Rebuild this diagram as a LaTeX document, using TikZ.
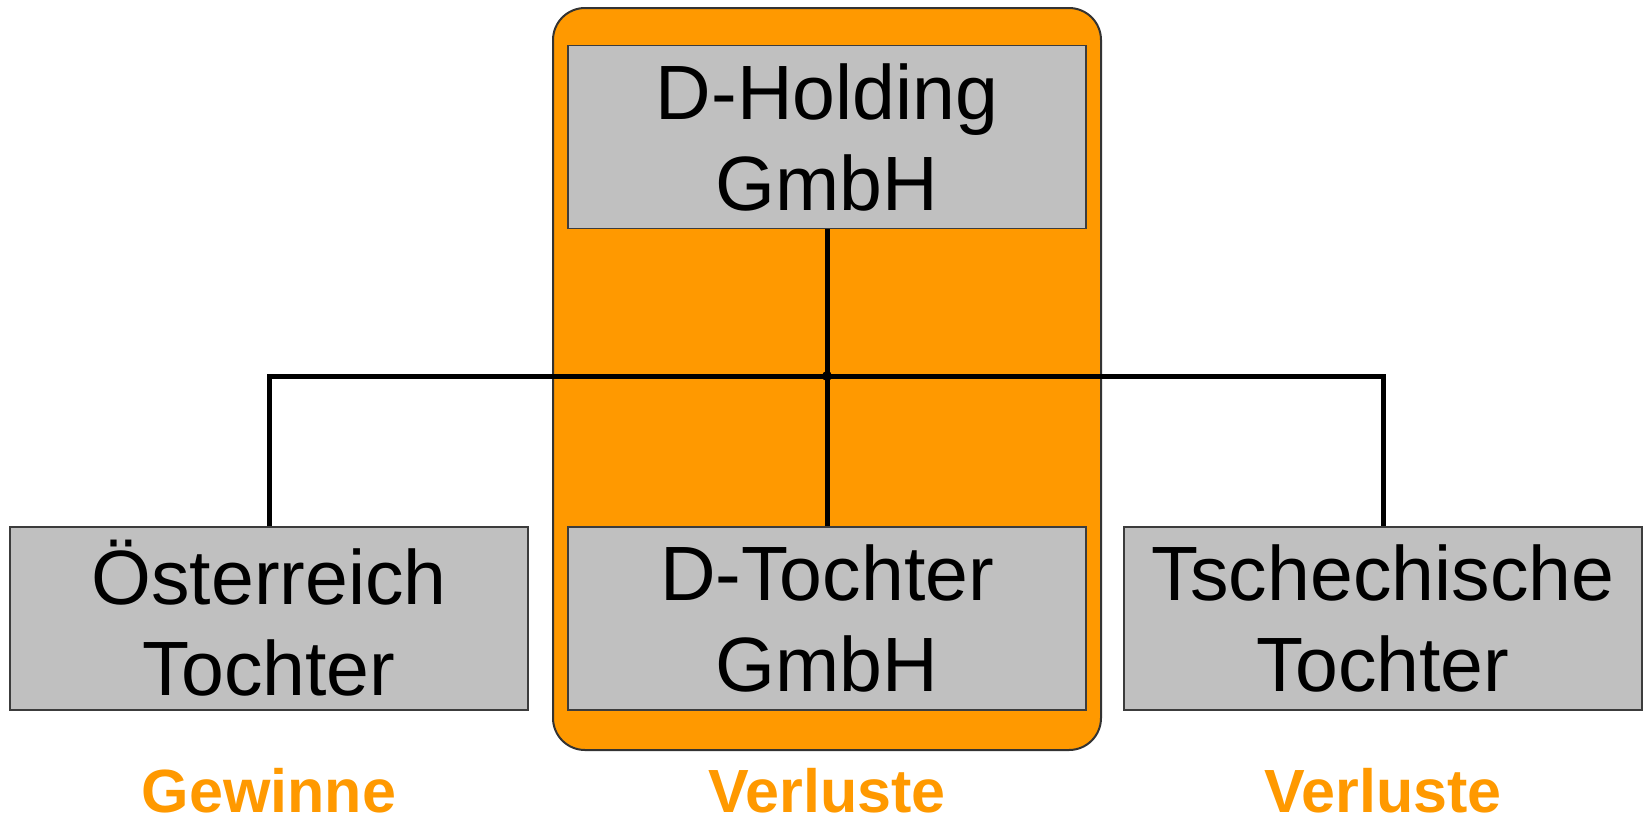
\documentclass[tikz,border=0pt]{standalone}
\usepackage{fontspec}
\setmainfont{Liberation Sans}
\definecolor{groupor}{RGB}{255,153,0}
\definecolor{boxgray}{RGB}{192,192,192}
\definecolor{edgegray}{RGB}{60,60,60}
\tikzset{
  company/.style={rectangle, draw=edgegray, line width=1.8pt, fill=boxgray,
    minimum width=518pt, minimum height=183pt, inner sep=0pt, align=center,
    font=\fontsize{77}{91}\selectfont},
  result/.style={anchor=base, text=groupor, inner sep=0pt,
    font=\fontsize{61}{70}\selectfont\bfseries},
  link/.style={draw=black, line width=5pt}
}
\begin{document}
\begin{tikzpicture}[x=1pt,y=-1pt]
  \useasboundingbox (0,0) rectangle (1647,823);
  % tax group (Organschaft) frame
  \draw[fill=groupor, draw=black!80, line width=2pt, rounded corners=32pt]
    (553,8) rectangle (1101,750);

  \node[company] (hold) at (827,137) {D-Holding\\GmbH};
  \node[company] (oest) at (269,618.5) {Österreich\\Tochter};
  \node[company] (dtoc) at (827,618.5) {D-Tochter\\GmbH};
  \node[company] (tsch) at (1383,618.5) {Tschechische\\Tochter};

  \coordinate (bar) at (827,376);
  \draw[link] (hold.south) -- (dtoc.north);
  \draw[link] (oest.north) |- (bar) -| (tsch.north);
  \fill (bar) circle (5pt);

  \node[result] (gew) at (269,812) {Gewinne};
  \node[result] (verl1) at (827,812) {Verluste};
  \node[result] (verl2) at (1383,812) {Verluste};
\end{tikzpicture}
\end{document}
